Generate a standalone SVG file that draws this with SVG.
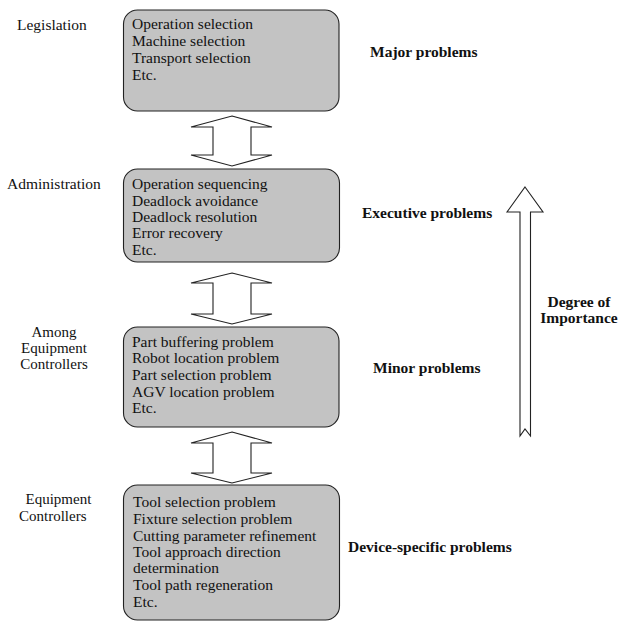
<svg xmlns="http://www.w3.org/2000/svg" width="618" height="621" viewBox="0 0 618 621">
<style>
.box{fill:#c3c3c3;stroke:#222;stroke-width:1.1}
.t{font-family:"Liberation Serif","Times New Roman",serif;font-size:15.5px;fill:#111}
.s{font-family:"Liberation Serif","Times New Roman",serif;font-size:15px;fill:#111}
.b{font-family:"Liberation Serif","Times New Roman",serif;font-size:15.5px;font-weight:bold;fill:#111}
.arr{fill:#fff;stroke:#222;stroke-width:1.1;stroke-linejoin:miter}
</style>
<rect width="618" height="621" fill="#fff"/>
<g id="connectors">
<polygon class="arr" points="232,116 272,127 251,127 251,155 272,155 232,166 191,155 213,155 213,127 191,127"/>
<polygon class="arr" points="232,273 272,283 251,283 251,314 272,314 232,324 191,314 213,314 213,283 191,283"/>
<polygon class="arr" points="232,432 272,443 251,443 251,473 272,473 232,483 191,473 213,473 213,443 191,443"/>
</g>
<g id="importance-arrow">
<polygon class="arr" points="525,187 543,212 530.5,212 530.5,436 525,429 520,436 520,212 507,212"/>
<text class="b" x="579" y="307" text-anchor="middle">Degree of</text>
<text class="b" x="579" y="323" text-anchor="middle">Importance</text>
</g>
<g id="legislation">
<text class="t" x="17" y="29.5">Legislation</text>
<rect class="box" x="123.5" y="10" width="215.5" height="101" rx="14"/>
<text class="t" x="132" y="29.3">Operation selection</text>
<text class="t" x="132" y="45.9">Machine selection</text>
<text class="t" x="132" y="62.5">Transport selection</text>
<text class="t" x="132" y="79.5">Etc.</text>
<text class="b" x="370" y="56.7">Major problems</text>
</g>
<g id="administration">
<text class="t" x="7" y="189.3">Administration</text>
<rect class="box" x="123.5" y="169" width="216" height="93" rx="14"/>
<text class="t" x="132" y="189.3">Operation sequencing</text>
<text class="t" x="132" y="205.8">Deadlock avoidance</text>
<text class="t" x="132" y="222">Deadlock resolution</text>
<text class="t" x="132" y="238.3">Error recovery</text>
<text class="t" x="132" y="254.8">Etc.</text>
<text class="b" x="362" y="218">Executive problems</text>
</g>
<g id="among-equipment-controllers">
<text class="s" x="54" y="336.5" text-anchor="middle">Among</text>
<text class="s" x="54" y="352.7" text-anchor="middle">Equipment</text>
<text class="s" x="54" y="368.9" text-anchor="middle">Controllers</text>
<rect class="box" x="123.5" y="327" width="215.5" height="100" rx="14"/>
<text class="t" x="132" y="346.7">Part buffering problem</text>
<text class="t" x="132" y="363.3">Robot location problem</text>
<text class="t" x="132" y="380">Part selection problem</text>
<text class="t" x="132" y="396.7">AGV location problem</text>
<text class="t" x="132" y="413.3">Etc.</text>
<text class="b" x="373" y="373">Minor problems</text>
</g>
<g id="equipment-controllers">
<text class="s" x="25.5" y="504.3">Equipment</text>
<text class="s" x="19" y="520.5">Controllers</text>
<rect class="box" x="123.5" y="485" width="216" height="135" rx="14"/>
<text class="t" x="133" y="507.3">Tool selection problem</text>
<text class="t" x="133" y="524">Fixture selection problem</text>
<text class="t" x="133" y="540.5">Cutting parameter refinement</text>
<text class="t" x="133" y="557">Tool approach direction</text>
<text class="t" x="133" y="573.3">determination</text>
<text class="t" x="133" y="590">Tool path regeneration</text>
<text class="t" x="133" y="606.5">Etc.</text>
<text class="b" x="348" y="552">Device-specific problems</text>
</g>
</svg>
